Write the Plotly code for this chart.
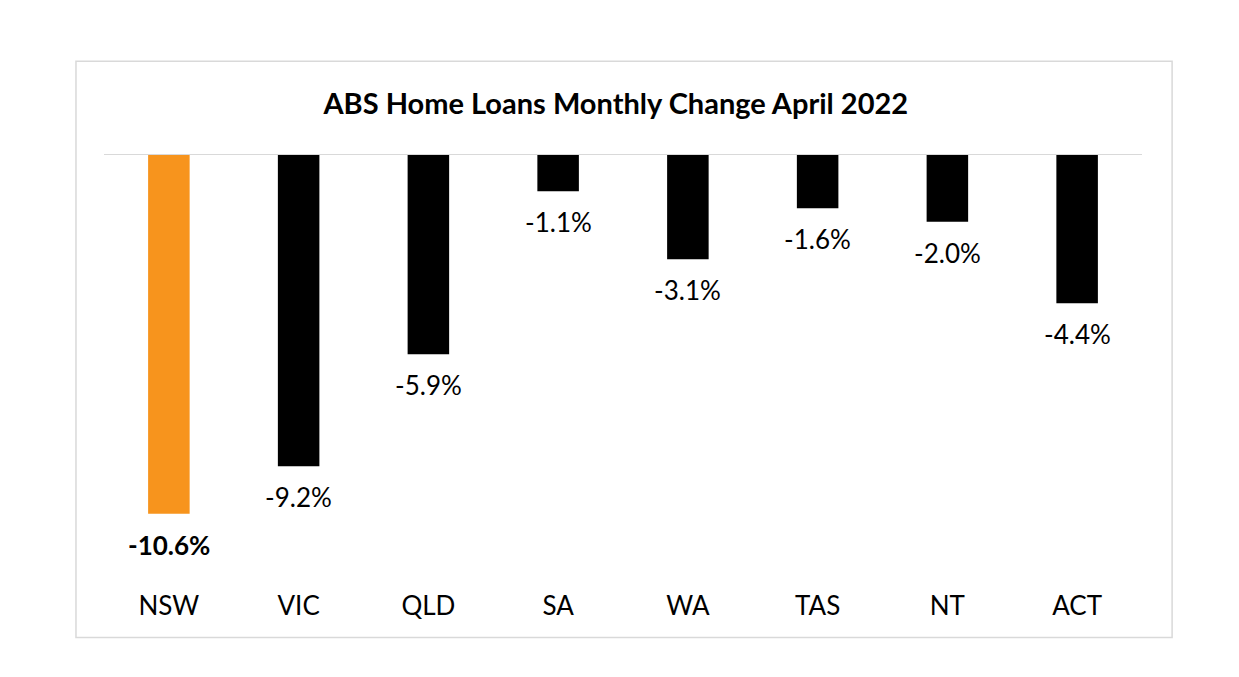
import plotly.graph_objects as go

states = ["NSW", "VIC", "QLD", "SA", "WA", "TAS", "NT", "ACT"]
changes = [-10.6, -9.2, -5.9, -1.1, -3.1, -1.6, -2.0, -4.4]
bar_colors = ["#F7941D", "#000000", "#000000", "#000000", "#000000", "#000000", "#000000", "#000000"]
label_bold = [True, False, False, False, False, False, False, False]

FONT = "Lato"

fig = go.Figure()
fig.add_trace(go.Bar(
    x=states, y=changes, marker=dict(color=bar_colors, line=dict(width=0)),
    width=0.32, hoverinfo="skip",
))

for s, v, b in zip(states, changes, label_bold):
    txt = f"{v:.1f}%"
    if b:
        txt = f"<b>{txt}</b>"
    fig.add_annotation(x=s, y=v, text=txt, showarrow=False, yanchor="top",
                       yshift=-13, font=dict(family=FONT, size=26, color="#000000"))

# baseline
fig.add_shape(type="line", xref="paper", yref="y", x0=0, x1=1, y0=0, y1=0,
              line=dict(color="#D9D9D9", width=2))
# outer chart border
fig.add_shape(type="rect", xref="paper", yref="paper", x0=-0.027, x1=1.029,
              y0=-0.122, y1=1.215, line=dict(color="#D9D9D9", width=1.5),
              fillcolor="rgba(0,0,0,0)", layer="below")

fig.update_layout(
    width=1223, height=661,
    margin=dict(l=96, r=89, t=146, b=84),
    paper_bgcolor="white", plot_bgcolor="white",
    showlegend=False,
    title=dict(text="<b>ABS Home Loans Monthly Change April 2022</b>",
               x=0.497, xanchor="center", y=1 - 96 / 661, yanchor="middle",
               font=dict(family=FONT, size=29, color="#000000")),
    xaxis=dict(showgrid=False, showline=False, ticks="", zeroline=False,
               tickfont=dict(family=FONT, size=26, color="#000000"),
               ticklabelstandoff=3, fixedrange=True),
    yaxis=dict(range=[-12.7, 0], visible=False, showgrid=False, zeroline=False,
               fixedrange=True),
)

fig.write_html("out.html")
